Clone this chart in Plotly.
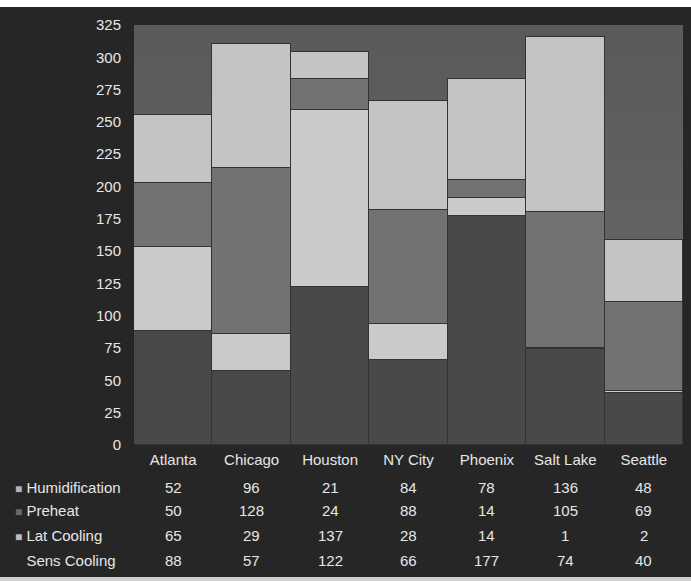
import plotly.graph_objects as go

cities = ["Atlanta", "Chicago", "Houston", "NY City", "Phoenix", "Salt Lake", "Seattle"]
sens_cooling = [88, 57, 122, 66, 177, 74, 40]
lat_cooling = [65, 29, 137, 28, 14, 1, 2]
preheat = [50, 128, 24, 88, 14, 105, 69]
humidification = [52, 96, 21, 84, 78, 136, 48]

y_ticks = list(range(0, 326, 25))

series = [
    ("Sens Cooling", sens_cooling, "#494949"),
    ("Lat Cooling", lat_cooling, "#cacaca"),
    ("Preheat", preheat, "#727272"),
    ("Humidification", humidification, "#c4c4c4"),
]

fig = go.Figure()
for name, vals, col in series:
    fig.add_trace(go.Bar(
        name=name, x=cities, y=vals,
        marker=dict(color=col, line=dict(color="#333333", width=1.5)),
        showlegend=False,
    ))

FONT = "Liberation Sans, Arial, sans-serif"
TXT = "#e6e6e6"

PH = 420.0  # plot area height in px

table_rows = [
    ("Humidification", humidification, "#b3b3b3"),
    ("Preheat", preheat, "#6a6a6a"),
    ("Lat Cooling", lat_cooling, "#bdbdbd"),
    ("Sens Cooling", sens_cooling, "#262626"),
]
row_px = [487, 511, 535, 560]
annotations = []
for (label, vals, mcol), py in zip(table_rows, row_px):
    yp = (445 - py) / PH
    for c, v in zip(cities, vals):
        annotations.append(dict(
            x=c, xref="x", y=yp, yref="paper", text=str(v), showarrow=False,
            font=dict(family=FONT, size=15, color=TXT), xanchor="center", yanchor="middle",
        ))
    annotations.append(dict(
        x=(13 - 134) / 549.0, xref="paper", y=yp, yref="paper",
        text=f'<span style="color:{mcol};font-size:12px">■</span> {label}',
        showarrow=False, font=dict(family=FONT, size=15, color=TXT),
        xanchor="left", yanchor="middle",
    ))

shapes = []
n = 24
top_c, bot_c = 0x5a, 0x6c
for i in range(n):
    t = i / (n - 1)
    g = int(round(top_c + (bot_c - top_c) * t))
    shapes.append(dict(
        type="rect", xref="paper", yref="paper", x0=0, x1=1,
        y0=1 - (i + 1) / n, y1=1 - i / n, layer="below",
        fillcolor=f"rgb({g},{g},{g})", line=dict(width=0),
    ))
shapes.append(dict(type="rect", xref="paper", yref="paper",
                   x0=-1, x1=2, y0=1 + 18 / PH, y1=1 + 40 / PH,
                   fillcolor="white", line=dict(width=0), layer="above"))
shapes.append(dict(type="rect", xref="paper", yref="paper",
                   x0=-1, x1=2, y0=-(577 - 445) / PH, y1=-(600 - 445) / PH,
                   fillcolor="#cfcfcf", line=dict(width=0), layer="above"))

fig.update_layout(
    barmode="stack",
    bargap=0,
    width=691, height=581,
    margin=dict(l=134, r=8, t=25, b=136),
    paper_bgcolor="#262626",
    plot_bgcolor="#606060",
    font=dict(family=FONT, size=15, color=TXT),
    xaxis=dict(
        tickfont=dict(family=FONT, size=15, color=TXT),
        showgrid=False, zeroline=False, showline=False,
        ticks="outside", ticklen=1, tickcolor="rgba(0,0,0,0)",
    ),
    yaxis=dict(
        range=[0, 325], tickvals=y_ticks,
        tickfont=dict(family=FONT, size=15, color=TXT),
        showgrid=False, zeroline=False, showline=False,
        ticks="outside", ticklen=9, tickcolor="rgba(0,0,0,0)",
    ),
    annotations=annotations,
    shapes=shapes,
)

fig.write_html("out.html", config={"displayModeBar": False},
               post_script="document.body.style.margin='0';")
